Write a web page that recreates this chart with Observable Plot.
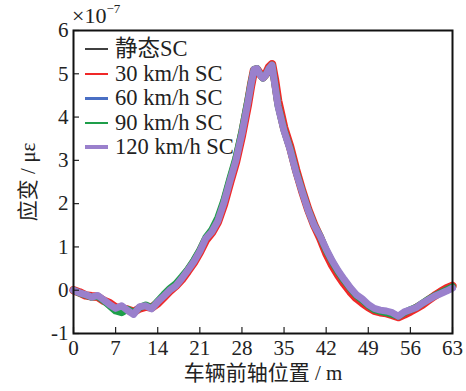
<!DOCTYPE html>
<html>
<head>
<meta charset="utf-8">
<script src="https://cdn.jsdelivr.net/npm/d3@7"></script>
<script src="https://cdn.jsdelivr.net/npm/@observablehq/plot@0.6"></script>
<style>
  html, body { margin: 0; padding: 0; background: #fff; }
  #wrap { position: relative; width: 466px; height: 391px; font-family: "Liberation Serif", "Times New Roman", "DejaVu Serif", "Noto Sans CJK SC", serif; color: #222; }
  #legend { position: absolute; left: 85px; top: 37px; font-size: 22.5px; line-height: 24px; }
  #legend .row { display: flex; align-items: center; height: 24.5px; }
  #legend .sw { width: 23px; margin-right: 7px; }
  #exp { position: absolute; left: 72px; top: 1px; font-size: 22px; }
  #exp sup { font-size: 13px; vertical-align: 10px; }
</style>
</head>
<body>
<div id="wrap"></div>
<script>
// Shared x positions (m)
const positions = [0,1,2,3,4,5,6,7,8,9,10,11,12,13,14,15,16,17,18,19,20,21,22,23,24,25,26,27,28,29,29.5,30,30.5,31,31.5,32,32.5,33,33.5,34,35,36,37,38,39,40,41,42,43,44,45,46,47,48,49,50,51,52,53,54,55,56,57,58,59,60,61,62,63];

const staticSC = [0.00,-0.06,-0.11,-0.15,-0.14,-0.22,-0.32,-0.42,-0.40,-0.46,-0.53,-0.40,-0.36,-0.42,-0.28,-0.15,0.00,0.11,0.27,0.45,0.65,0.89,1.18,1.35,1.61,2.01,2.50,2.98,3.60,4.33,4.74,5.08,5.11,4.99,4.91,4.99,5.12,5.20,4.76,4.30,3.72,3.28,2.75,2.29,1.86,1.50,1.24,0.92,0.66,0.42,0.22,0.04,-0.12,-0.23,-0.35,-0.44,-0.48,-0.51,-0.55,-0.61,-0.53,-0.46,-0.40,-0.31,-0.22,-0.13,-0.06,0.01,0.08];
const kmh30 = [0.00,-0.05,-0.12,-0.14,-0.15,-0.24,-0.30,-0.40,-0.42,-0.45,-0.50,-0.42,-0.38,-0.40,-0.30,-0.16,-0.02,0.10,0.25,0.44,0.64,0.88,1.16,1.33,1.58,1.98,2.48,2.96,3.58,4.30,4.72,5.08,5.10,5.00,4.92,5.00,5.15,5.22,4.85,4.38,3.76,3.32,2.78,2.30,1.87,1.51,1.21,0.86,0.58,0.35,0.15,-0.03,-0.18,-0.29,-0.39,-0.47,-0.51,-0.53,-0.57,-0.62,-0.56,-0.49,-0.41,-0.33,-0.23,-0.13,-0.04,0.04,0.10];
const kmh60 = [0.00,-0.06,-0.10,-0.15,-0.13,-0.22,-0.33,-0.43,-0.40,-0.46,-0.54,-0.39,-0.36,-0.43,-0.28,-0.14,0.00,0.11,0.27,0.46,0.66,0.90,1.19,1.35,1.62,2.02,2.51,3.00,3.62,4.35,4.75,5.10,5.12,4.98,4.90,4.98,5.12,5.20,4.74,4.27,3.70,3.27,2.74,2.29,1.86,1.51,1.25,0.92,0.67,0.43,0.23,0.05,-0.11,-0.22,-0.34,-0.43,-0.47,-0.50,-0.54,-0.61,-0.52,-0.46,-0.40,-0.31,-0.22,-0.14,-0.07,0.00,0.07];
const kmh90 = [0.00,-0.07,-0.11,-0.16,-0.14,-0.24,-0.36,-0.48,-0.52,-0.44,-0.52,-0.40,-0.34,-0.41,-0.25,-0.10,0.04,0.15,0.31,0.48,0.69,0.93,1.22,1.40,1.68,2.08,2.58,3.06,3.68,4.40,4.78,5.10,5.12,4.98,4.90,4.98,5.12,5.20,4.74,4.27,3.70,3.27,2.74,2.29,1.86,1.51,1.25,0.92,0.66,0.42,0.22,0.04,-0.12,-0.23,-0.35,-0.45,-0.49,-0.52,-0.56,-0.60,-0.52,-0.45,-0.39,-0.30,-0.21,-0.13,-0.06,0.01,0.08];
const kmh120 = [0.00,-0.06,-0.10,-0.16,-0.12,-0.22,-0.33,-0.42,-0.36,-0.47,-0.56,-0.38,-0.36,-0.43,-0.27,-0.14,0.00,0.10,0.27,0.46,0.66,0.90,1.20,1.35,1.60,2.02,2.52,3.00,3.62,4.35,4.75,5.10,5.12,4.98,4.90,4.98,5.12,5.20,4.72,4.25,3.68,3.25,2.72,2.28,1.85,1.50,1.25,0.95,0.68,0.45,0.25,0.06,-0.10,-0.20,-0.33,-0.42,-0.46,-0.48,-0.52,-0.60,-0.50,-0.45,-0.40,-0.30,-0.22,-0.14,-0.08,-0.02,0.05];

const seriesNames = ["静态SC", "30 km/h SC", "60 km/h SC", "90 km/h SC", "120 km/h SC"];
const seriesValues = [staticSC, kmh30, kmh60, kmh90, kmh120];
const seriesColors = ["#404040", "#f02828", "#4a6fc4", "#1e9e4a", "#9a80cc"];
const seriesWidths = [2, 8.5, 3, 7, 7];
const legendWidths = [2, 2, 3, 2, 4];

const xTicks = [0,7,14,21,28,35,42,49,56,63];
const yTicks = [-1,0,1,2,3,4,5,6];

const lineMarks = seriesValues.map((vals, i) =>
  Plot.line(positions.map((x, j) => ({x, y: vals[j]})), {
    x: "x", y: "y", stroke: seriesColors[i], strokeWidth: seriesWidths[i],
    strokeLinejoin: "round", strokeLinecap: "round"
  })
);

const chart = Plot.plot({
  width: 466,
  height: 391,
  marginLeft: 73,
  marginRight: 14,
  marginTop: 30,
  marginBottom: 58,
  style: { fontFamily: "'Liberation Serif', 'Times New Roman', 'DejaVu Serif', 'Noto Sans CJK SC', serif", fontSize: "21px", color: "#222", background: "#fff" },
  x: { domain: [0, 63] },
  y: { domain: [-1, 6] },
  marks: [
    ...lineMarks,
    Plot.axisX({ ticks: xTicks, tickSize: -6, tickPadding: 13, tickFormat: d => d, label: "车辆前轴位置 / m", labelAnchor: "center", labelArrow: "none", labelOffset: 46, strokeWidth: 1.2 }),
    Plot.axisY({ ticks: yTicks, tickSize: -6, tickPadding: 11, tickFormat: d => d, label: "应变 / με", labelAnchor: "center", labelOffset: 53, labelArrow: "none", strokeWidth: 1.2 }),
    Plot.frame({ stroke: "#111", strokeWidth: 2 })
  ]
});

const wrap = document.getElementById("wrap");
wrap.appendChild(chart);

const exp = document.createElement("div");
exp.id = "exp";
exp.innerHTML = "×10<sup>−7</sup>";
wrap.appendChild(exp);

const legend = document.createElement("div");
legend.id = "legend";
seriesNames.forEach((name, i) => {
  const row = document.createElement("div");
  row.className = "row";
  const sw = document.createElement("div");
  sw.className = "sw";
  sw.style.height = legendWidths[i] + "px";
  sw.style.background = seriesColors[i];
  const t = document.createElement("span");
  t.textContent = name;
  row.appendChild(sw);
  row.appendChild(t);
  legend.appendChild(row);
});
wrap.appendChild(legend);
</script>
</body>
</html>
